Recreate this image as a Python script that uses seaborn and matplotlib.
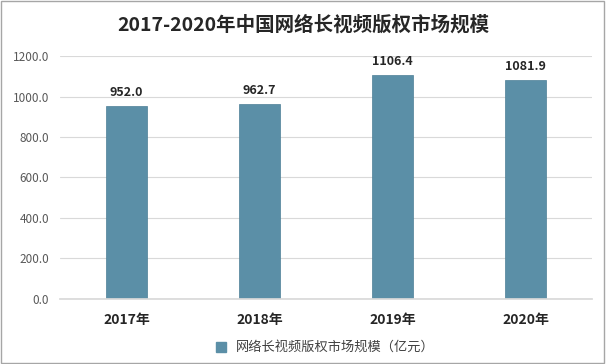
import matplotlib
matplotlib.use("Agg")
import matplotlib.pyplot as plt
import seaborn as sns
import pandas as pd
from matplotlib.patches import Rectangle
from matplotlib.lines import Line2D

years = ["2017年", "2018年", "2019年", "2020年"]
values = [952.0, 962.7, 1106.4, 1081.9]
series_name = "网络长视频版权市场规模（亿元）"
title = "2017-2020年中国网络长视频版权市场规模"

sns.set_theme(style="white")
plt.rcParams['font.family'] = ['Noto Sans CJK SC', 'DejaVu Sans']

df = pd.DataFrame({"year": years, "value": values})
color = "#5b8fa7"

fig = plt.figure(figsize=(6.06, 3.64), dpi=100)
ax = fig.add_axes([0.099, 0.179, 0.878, 0.667])
sns.barplot(data=df, x="year", y="value", color=color, width=0.314, ax=ax,
            saturation=1, edgecolor="#4d7f96", linewidth=0.5)
ax.set_ylim(0, 1200)
ax.set_yticks(range(0, 1201, 200))
ax.set_yticklabels([f"{v:.1f}" for v in range(0, 1201, 200)], fontsize=8.5, color="#595959")
ax.tick_params(axis='y', length=0, pad=8)
ax.tick_params(axis='x', length=0, pad=10)
for lbl in ax.get_xticklabels():
    lbl.set_fontweight("bold")
    lbl.set_fontsize(10)
    lbl.set_color("#262626")
ax.set_xlabel("")
ax.set_ylabel("")
ax.yaxis.grid(True, color="#d9d9d9", linewidth=0.8)
ax.set_axisbelow(True)
for s in ["top", "right", "left"]:
    ax.spines[s].set_visible(False)
ax.spines["bottom"].set_color("#d9d9d9")
for p, v in zip(ax.patches, values):
    ax.annotate(f"{v:.1f}", (p.get_x() + p.get_width() / 2, p.get_height()),
                xytext=(0, 5), textcoords="offset points", ha="center", va="bottom",
                fontsize=9, color="#262626", fontweight="bold")

fig.text(0.5, 0.932, title, ha="center", va="center", fontsize=14, fontweight="bold", color="#262626")

handle = Line2D([], [], marker="s", linestyle="", color=color, markersize=7)
fig.legend([handle], [series_name], loc="center", bbox_to_anchor=(0.53, 0.045), frameon=False,
           fontsize=9.5, handletextpad=0.1, labelcolor="#404040")

fig.patches.append(Rectangle((0.002, 0.003), 0.995, 0.994, transform=fig.transFigure,
                             fill=False, edgecolor="#a6a6a6", linewidth=1))
fig.savefig("out.png", dpi=100)
